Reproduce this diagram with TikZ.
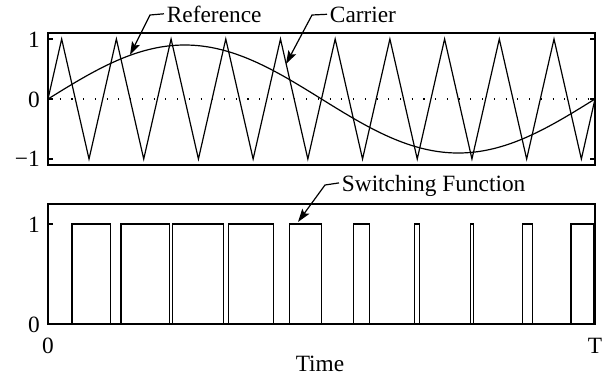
\documentclass[tikz,border=0pt]{standalone}
\usepackage{fontspec}
\setmainfont{Liberation Serif}
\usetikzlibrary{arrows.meta}
% horizontal position of time t (0..1)
\newcommand{\tx}[1]{48+547*(#1)}
\begin{document}
\begin{tikzpicture}[x=0.75pt,y=-0.75pt,
  frame/.style={line width=1.1pt},
  trace/.style={line width=0.9pt, line join=miter},
  tickmark/.style={line width=0.8pt},
  zeroline/.style={line width=0.9pt, dash pattern=on 0.8pt off 8pt},
  ticklabel/.style={inner sep=0pt, font=\fontsize{17.5}{20}\selectfont},
  caption/.style={inner sep=2pt, text depth=0pt, font=\fontsize{17.5}{20}\selectfont},
  leader/.style={line width=0.9pt, -{Stealth[length=10pt,width=6.5pt,inset=2pt]}}]
\useasboundingbox (0,0) rectangle (607,376);

% ---------- upper plot: reference and triangular carrier ----------
\draw[zeroline] (48,99) -- (595,99);
% carrier: ten periods of a triangle wave starting upward from zero
\draw[trace] (48,99)
  \foreach \k in {0,...,9} { -- ({\tx{0.025+0.1*\k}},39) -- ({\tx{0.075+0.1*\k}},159) }
  -- (595,99);
% reference: one period of a sine of amplitude 0.9
\draw[trace] plot[domain=0:1, samples=120, smooth] ({\tx{\x}},{99-54*sin(360*\x)});
\draw[frame] (48,33) rectangle (595,165);
\foreach \yy in {39,99,159} {
  \draw[tickmark] (48,\yy) -- (53,\yy);
  \draw[tickmark] (595,\yy) -- (590,\yy);
}
\node[ticklabel, anchor=east] (u1) at (40,40) {1};
\node[ticklabel, anchor=east] (u0) at (40,100) {0};
\node[ticklabel, anchor=east] (um1) at (40,159) {−1};

% ---------- lower plot: switching function ----------
\draw[trace] (48,324)
  \foreach \on/\off in {0.04388/0.11487, 0.13328/0.22215, 0.22772/0.32033,
                        0.33030/0.41185, 0.44197/0.50000, 0.55802/0.58815,
                        0.66970/0.67967, 0.77227/0.77784, 0.86673/0.88514,
                        0.95613/0.99750}
  { -- ({\tx{\on}},324) -- ({\tx{\on}},224) -- ({\tx{\off}},224) -- ({\tx{\off}},324) }
  -- (595,324);
\draw[frame] (48,204) rectangle (595,324);
\foreach \yy in {224,324} {
  \draw[tickmark] (48,\yy) -- (53,\yy);
  \draw[tickmark] (595,\yy) -- (590,\yy);
}
\node[ticklabel, anchor=east] (l1) at (40,225) {1};
\node[ticklabel, anchor=east] (l0) at (40,325) {0};
\node[ticklabel, anchor=base] (t0) at (48,353) {0};
\node[ticklabel, anchor=base] (tT) at (595,353) {T};
\node[ticklabel, anchor=base] (time) at (320,371) {Time};

% ---------- curve labels with leaders ----------
\node[caption, anchor=base west] (reflabel) at (164,22) {Reference};
\node[caption, anchor=base west] (carlabel) at (327,22) {Carrier};
\node[caption, anchor=base west] (swlabel) at (339,191) {Switching Function};
\coordinate (refbend) at (150,15);
\coordinate (reftip) at (130,55);
\coordinate (carbend) at (312,15);
\coordinate (cartip) at (286,64);
\coordinate (swbend) at (325,185);
\coordinate (swtip) at (298,222);
\draw[leader] (reflabel.west) -- (refbend) -- (reftip);
\draw[leader] (carlabel.west) -- (carbend) -- (cartip);
\draw[leader] (swlabel.west) -- (swbend) -- (swtip);
\end{tikzpicture}
\end{document}
